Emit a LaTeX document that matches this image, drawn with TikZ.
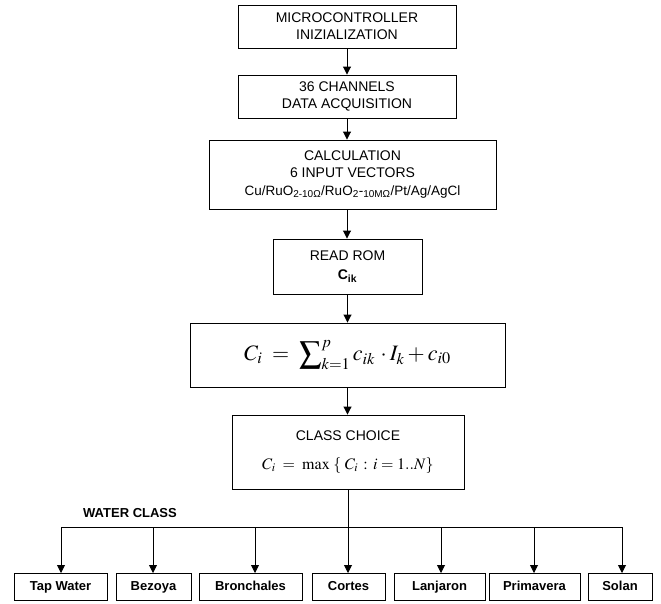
\documentclass[tikz,border=0pt]{standalone}
\usepackage{mathptmx}
\usepackage[no-math]{fontspec}
\setmainfont{Liberation Sans}
\usetikzlibrary{arrows.meta}

\begin{document}
\begin{tikzpicture}[x=1pt,y=-1pt,
  box/.style={draw,line width=0.9pt,inner sep=0pt,align=center,font=\fontsize{14}{17}\selectfont},
  water/.style={draw,line width=0.9pt,inner sep=0pt,minimum height=27pt,text height=9.5pt,text depth=2.5pt,font=\fontsize{13}{15}\selectfont\bfseries},
  flow/.style={line width=0.9pt,-{Triangle[length=8pt,width=8pt]}}]
\useasboundingbox (0,0) rectangle (661,603);

% main column of boxes
\node[box,minimum width=218pt,minimum height=43pt] (init) at (347,26.5) {MICROCONTROLLER\\INIZIALIZATION};
\node[box,minimum width=218pt,minimum height=43pt] (acq) at (347,96.5) {36 CHANNELS\\DATA ACQUISITION};
\node[box,minimum width=287pt,minimum height=69pt] (calc) at (352.5,174.5)
  {CALCULATION\\6 INPUT VECTORS\\[1pt]{\fontsize{13.5}{16}\selectfont Cu/RuO\textsubscript{2-10Ω}/RuO\textsubscript{2}-\textsubscript{10MΩ}/Pt/Ag/AgCl}};
\node[box,minimum width=149pt,minimum height=55pt] (rom) at (347.5,266.5) {READ ROM\\[2pt]\textbf{C\textsubscript{ik}}};
\node[box,minimum width=315pt,minimum height=64pt,font=\fontsize{22}{26}\selectfont] (sum) at (347.5,355)
  {$C_i \;=\; \displaystyle\sum\nolimits_{k=1}^{p} c_{ik}\,\cdot I_k + c_{i0}$};
\node[box,minimum width=232pt,minimum height=74pt] (choice) at (348,452)
  {CLASS CHOICE\\[12pt]{\fontsize{16}{18}\selectfont$C_i \;=\; \max\;\{\;C_i \,:\, i = 1..N\}$}};

% arrows down the column
\draw[flow] (init.south) -- (init.south |- acq.north);
\draw[flow] (acq.south) -- (acq.south |- calc.north);
\draw[flow] (acq.south |- calc.south) -- (acq.south |- rom.north);
\draw[flow] (rom.south) -- (rom.south |- sum.north);
\draw[flow] (rom.south |- sum.south) -- (rom.south |- choice.north);

% water classes
\node[font=\fontsize{13}{15}\selectfont\bfseries] (label) at (130,513) {WATER CLASS};
\foreach \name/\txt/\cx/\ax/\w in {tap/Tap Water/60.5/61/93, bez/Bezoya/153.5/153/75,
    bro/Bronchales/250.5/255/103, cor/Cortes/348.5/348/73, lan/Lanjaron/439.5/441/91,
    pri/Primavera/534.5/534/91, sol/Solan/620/622/64}{
  \node[water,minimum width=\w pt] (\name) at (\cx,586.5) {\txt};
  \coordinate (b\name) at (\ax,527);
  \coordinate (t\name) at (\ax,573);
  \draw[flow] (b\name) -- (t\name);
}
\draw[line width=0.9pt] (btap) -- (bsol);
\draw[line width=0.9pt] (choice.south) -- (bcor);
\end{tikzpicture}
\end{document}
